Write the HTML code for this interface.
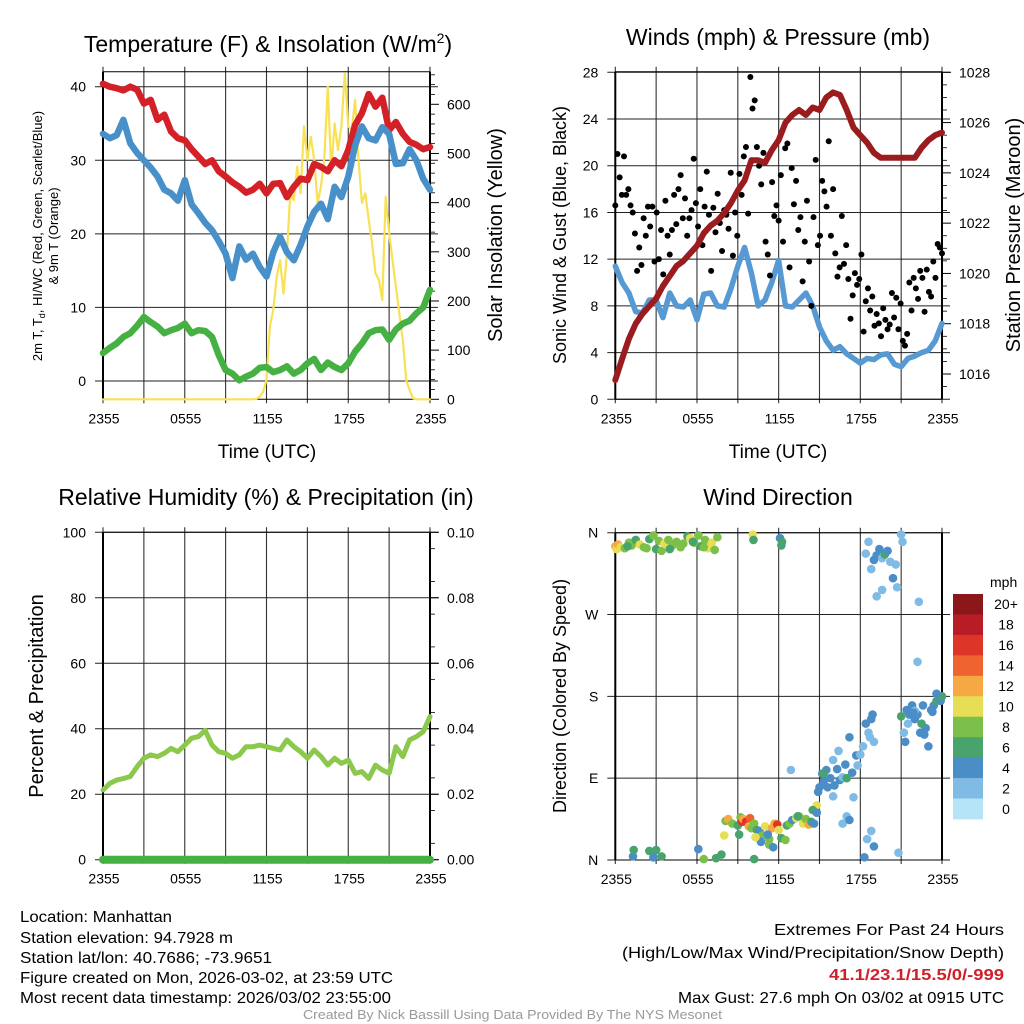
<!DOCTYPE html>
<html><head><meta charset="utf-8"><style>
html,body{margin:0;padding:0;background:#fff;}
svg{display:block;font-family:"Liberation Sans",sans-serif;}
</style></head><body>
<svg id="root" width="1024" height="1024" viewBox="0 0 1024 1024" xmlns="http://www.w3.org/2000/svg">
<text x="268" y="52" font-size="23" text-anchor="middle">Temperature (F) &amp; Insolation (W/m<tspan font-size="14" dy="-9">2</tspan><tspan dy="9">)</tspan></text>
<text x="778" y="45" font-size="23" text-anchor="middle">Winds (mph) &amp; Pressure (mb)</text>
<text x="266" y="505" font-size="23" text-anchor="middle">Relative Humidity (%) &amp; Precipitation (in)</text>
<text x="778" y="505" font-size="23" text-anchor="middle">Wind Direction</text>

<text transform="translate(42,236) rotate(-90)" font-size="13" text-anchor="middle">2m T, T<tspan font-size="9" dy="3">d</tspan><tspan dy="-3">, HI/WC (Red, Green, Scarlet/Blue)</tspan></text>
<text transform="translate(58,236) rotate(-90)" font-size="13" text-anchor="middle">&amp; 9m T (Orange)</text>
<text transform="translate(502,235) rotate(-90)" font-size="20" text-anchor="middle">Solar Insolation (Yellow)</text>
<text transform="translate(566,235) rotate(-90)" font-size="18" text-anchor="middle">Sonic Wind &amp; Gust (Blue, Black)</text>
<text transform="translate(1020,235) rotate(-90)" font-size="20" text-anchor="middle">Station Pressure (Maroon)</text>
<text transform="translate(43,696) rotate(-90)" font-size="20" text-anchor="middle">Percent &amp; Precipitation</text>
<text transform="translate(566,696) rotate(-90)" font-size="18" text-anchor="middle">Direction (Colored By Speed)</text>
<text x="267" y="458" font-size="19" text-anchor="middle">Time (UTC)</text>
<text x="778" y="458" font-size="19" text-anchor="middle">Time (UTC)</text>

<g font-size="15.5">
<text x="20" y="922" textLength="152" lengthAdjust="spacingAndGlyphs">Location: Manhattan</text>
<text x="20" y="943" textLength="213" lengthAdjust="spacingAndGlyphs">Station elevation: 94.7928 m</text>
<text x="20" y="963" textLength="252" lengthAdjust="spacingAndGlyphs">Station lat/lon: 40.7686; -73.9651</text>
<text x="20" y="983" textLength="373" lengthAdjust="spacingAndGlyphs">Figure created on Mon, 2026-03-02, at 23:59 UTC</text>
<text x="20" y="1003" textLength="371" lengthAdjust="spacingAndGlyphs">Most recent data timestamp: 2026/03/02 23:55:00</text>
</g>
<g font-size="16">
<text x="774" y="935" textLength="230" lengthAdjust="spacingAndGlyphs">Extremes For Past 24 Hours</text>
<text x="622" y="958" textLength="382" lengthAdjust="spacingAndGlyphs">(High/Low/Max Wind/Precipitation/Snow Depth)</text>
<text x="829" y="980" fill="#d0202a" font-weight="bold" textLength="175" lengthAdjust="spacingAndGlyphs">41.1/23.1/15.5/0/-999</text>
<text x="678" y="1003" textLength="326" lengthAdjust="spacingAndGlyphs">Max Gust: 27.6 mph On 03/02 at 0915 UTC</text>
</g>
<text x="303" y="1019" font-size="12.5" fill="#999" textLength="419" lengthAdjust="spacingAndGlyphs">Created By Nick Bassill Using Data Provided By The NYS Mesonet</text>
<g id="charts"></g>
</svg>
<script>
// ---- data (half-hourly unless noted) ----
const tempF = [40.4,40.0,39.8,39.5,40.0,39.6,37.7,38.2,35.5,36.2,33.9,33.0,32.7,31.5,30.5,29.5,30.0,28.5,27.8,27.0,26.4,25.6,26.0,26.8,25.5,26.8,26.9,25.0,26.4,27.5,27.3,29.5,29.1,28.5,30.0,29.2,31.4,34.8,36.4,39.0,37.3,38.5,34.1,35.2,33.6,32.5,32.1,31.5,31.8];
const windChill = [33.6,33.0,33.4,35.5,32.3,31.0,30.0,29.0,27.8,26.0,25.5,24.5,27.3,24.0,22.8,21.5,20.5,19.0,17.3,14.0,18.3,16.5,17.3,15.5,14.2,17.5,19.6,17.5,16.4,18.5,21.0,23.0,24.1,22.0,26.4,25.0,27.8,32.0,34.6,33.0,32.7,34.5,33.6,29.5,29.6,31.5,30.0,27.5,26.0];
const dewpoint = [3.8,4.5,5.1,6.0,6.5,7.5,8.7,8.0,7.4,6.5,6.9,7.2,7.8,6.5,6.9,6.8,6.0,3.5,1.5,1.0,0.1,0.6,1.0,1.8,1.9,1.2,1.5,2.0,1.0,1.5,2.4,3.0,1.5,2.5,1.9,1.5,2.4,4.0,5.1,6.5,6.9,7.0,5.6,7.0,7.8,8.2,9.2,10.0,12.4];
// solar, 15-minute
const solar = [0,0,0,0,0,0,0,0,0,0,0,0,0,0,0,0,0,0,0,0,0,0,0,0,0,0,0,0,0,0,0,0,0,0,0,0,0,0,0,0,0,0,0,0,0,1,5,15,39,148,182,249,283,215,297,419,405,473,419,555,487,534,487,399,433,494,636,466,561,507,555,663,555,548,609,487,399,419,365,317,256,243,202,412,338,283,229,175,121,39,19,2,0,0,0,0,0];
const windSpeed = [11.4,10.0,9.1,7.5,7.4,8.5,8.5,7.0,9.1,8.0,7.9,8.5,6.8,9.0,9.1,8.0,7.9,9.5,11.4,13.0,10.8,8.0,8.5,10.0,11.9,8.0,7.9,8.5,9.1,8.0,6.2,5.0,4.2,4.5,3.9,3.5,3.1,3.5,3.4,3.8,3.9,3.0,2.8,3.5,3.7,4.0,4.2,5.0,6.5];
const gusts = [16.6,21,19,17.5,20.8,17.5,18,16.6,16,14.2,11,13,11.5,15.5,14,16.5,14.8,16.5,11.8,16,12,14.5,10.7,17,14,12.4,14.5,17.5,15,18,19.2,15.5,17.2,14,15.5,16.2,20.6,16.8,14.8,18,13.2,16.5,19.5,15.8,11,16.4,14.3,17.6,15.1,12.7,16.2,15.8,14.6,19.4,12.3,16,14,19.3,17.5,20.8,21.6,15.9,27.6,24.9,25.6,21.6,20,18.4,21.1,13.5,12.4,10.6,18.6,15.7,16.6,15.3,19.2,13.5,21.5,21.9,11.3,19.8,16.7,18.7,14.5,15.6,10.1,13.5,17,11.8,8,15.6,20.5,13.2,14,18.7,17.8,16.5,22.1,14,18,12.5,10.5,11.3,15.7,11.6,13.2,10.3,6.9,8.9,10.8,9.8,10.3,12.4,5.8,8.4,9.5,7.6,8.8,6.3,7.3,6.5,5.4,7.8,6.8,6,6.4,9.1,7,8.7,6,8.2,5,4.6,5.6,10,7.6,10.4,9.5,8.6,11,10.4,7.5,11.1,9.2,8.8,11.8,10.4,13.3,13,12.5];
const pressure = [1015.76,1016.6,1017.4,1018.0,1018.4,1018.7,1019.0,1019.5,1019.9,1020.3,1020.5,1020.8,1021.1,1021.6,1021.9,1022.1,1022.4,1022.8,1023.3,1023.7,1024.5,1024.5,1024.4,1024.9,1025.3,1026.0,1026.3,1026.5,1026.3,1026.6,1026.5,1027.0,1027.2,1027.1,1026.5,1025.8,1025.5,1025.2,1024.8,1024.6,1024.6,1024.6,1024.6,1024.6,1024.6,1025.0,1025.3,1025.5,1025.6];
const relHumidity = [21.3,23.3,24.3,24.8,25.4,28.4,31.0,32.0,31.5,32.5,34.0,33.0,35.0,37.1,37.6,39.5,35.0,33.0,32.5,31.0,32.0,34.5,34.5,35.0,34.5,34.0,33.5,36.6,34.5,33.0,31.0,33.5,31.5,28.9,31.0,29.4,30.4,26.4,26.9,24.8,28.9,27.4,26.4,34.5,31.5,36.6,37.6,39.1,43.7];
const precip = [0,0,0,0,0];
// wind direction scatter: hours since start, degrees, mph
const dirHours = [0,0.1,0.2,0.4,0.7,1.0,1.2,1.5,1.8,2.1,2.5,2.8,3.0,3.2,3.4,3.6,3.9,4.2,4.5,4.8,5.0,5.3,5.5,5.8,6.1,6.3,6.6,6.8,7.1,7.3,7.5,0.9,2.3,4.0,6.5,5.7,
1.3,1.35,2.5,2.8,3.0,3.4,6.5,7.4,7.8,10.2,6.1,10.1,10.15,12.1,12.25,12.2,
8.0,8.1,8.3,8.6,9.0,9.2,9.3,9.4,9.6,9.8,9.9,10.0,10.2,10.4,10.6,10.8,11.0,11.3,11.3,11.5,11.7,11.9,12.0,12.2,12.5,12.6,12.8,13.0,13.3,13.5,13.8,14.0,14.2,14.4,14.8,14.5,13.4,11.2,10.7,10.3,9.1,11.6,12.9,
14.6,14.8,15.0,15.2,15.3,15.5,15.6,15.8,16.0,16.1,16.3,16.5,16.7,16.9,17.0,17.2,17.4,17.5,17.7,17.8,18.0,18.2,18.4,18.6,18.8,18.9,19.0,18.7,16.0,15.3,16.4,17.0,14.9,16.7,17.2,
18.3,18.5,18.8,19.0,20.8,
18.4,18.6,18.8,19.0,19.2,19.4,19.6,19.8,20.0,20.2,20.4,20.6,20.7,19.2,19.6,21.0,21.1,22.3,22.2,
21.0,21.2,21.3,21.4,21.6,21.8,22.0,22.2,22.4,22.6,22.8,23.0,23.2,23.4,23.6,23.8,23.9,24.0,22.5,23.6,22.0,21.5,22.7,21.9,23.3];
const dirDegrees = [345,342,347,344,343,349,346,352,347,344,353,357,342,351,340,348,352,346,350,344,348,356,354,349,357,345,352,343,349,341,355,345,343,342,344,350,
4,11,10,3,11,4,1,2,6,1,12,358,352,354,350,346,
27,43,45,40,38,47,42,45,42,37,46,35,40,33,32,27,37,23,17,35,40,39,33,24,22,38,40,44,46,48,40,45,39,42,60,55,48,28,20,25,28,14,99,
40,52,80,95,86,99,80,90,70,82,100,88,91,105,48,135,96,69,115,104,116,125,150,140,155,160,130,135,110,95,120,90,75,40,44,
3,23,32,15,8,
337,350,320,330,335,342,332,336,340,328,310,325,300,290,297,358,350,284,218,
158,140,130,165,160,170,155,160,140,170,145,125,165,170,175,178,175,180,150,183,164,150,138,162,163];
const dirSpeed = [12,11,13,10,8,8,9,7,10,8,6,8,7,8,8,10,8,8,8,8,9,7,10,8,8,7,9,10,11,8,8,7,8,7,8,7,
4,6,6,4,6,6,8,6,6,6,4,10,6,4,6,6,
10,8,12,8,6,8,16,12,16,12,14,8,8,6,4,8,10,8,8,12,12,16,10,6,8,6,8,4,10,8,10,8,12,6,10,6,6,4,4,10,6,4,2,
4,4,4,4,4,4,4,4,2,4,4,4,2,4,2,4,4,2,4,2,2,2,4,2,4,4,2,2,2,6,2,6,4,2,4,
4,2,2,4,2,
2,2,2,4,4,4,2,6,4,2,4,2,2,2,2,2,2,2,2,
6,2,4,4,4,4,4,4,4,4,4,4,4,4,6,6,4,6,6,4,2,2,4,4,4];
const xTickLabels = ["2355","0555","1155","1755","2355"];
const tempTicks = [0,10,20,30,40];
const solarTicks = [0,100,200,300,400,500,600];
const windTicks = [0,4,8,12,16,20,24,28];
const pressureTicks = [1016,1018,1020,1022,1024,1026,1028];
const rhTicks = [0,20,40,60,80,100];
const precipTicks = ["0.00","0.02","0.04","0.06","0.08","0.10"];
const dirTicks = ["N","E","S","W","N"];
const colorbarLabels = ["20+","18","16","14","12","10","8","6","4","2","0"];
const speedColors = ["#b5e4f7","#7fbbe4","#4a8dc7","#48a46c","#7cc04a","#e6df56","#f6a943","#ef6330","#dd3528","#b81d25","#8c171b"];

const NS = "http://www.w3.org/2000/svg";
const root = document.getElementById("charts");
function mk(tag, attrs, parent){
  const e = document.createElementNS(NS, tag);
  for (const k in attrs) e.setAttribute(k, attrs[k]);
  (parent||root).appendChild(e); return e;
}
function scale(d0,d1,r0,r1){ return v => r0 + (v-d0)/(d1-d0)*(r1-r0); }
function linePath(arr, xs, ys){
  const n = arr.length;
  return arr.map((v,i)=>(i?"L":"M")+xs(i*24/(n-1)).toFixed(1)+","+ys(v).toFixed(1)).join("");
}

function panel(name, x0, x1, yT, yB, hGridVals, ys){
  const g = mk("g", {});
  
  
  const xs = scale(0,24,x0,x1);
  for (let h=0; h<=24; h+=3){
    const l = mk("line",{x1:xs(h),x2:xs(h),y1:yT-5,y2:yB+4,stroke:"#333","stroke-width":1.1},g);
    
    
  }
  hGridVals.forEach(v=>{
    const l = mk("line",{x1:x0-8,x2:x1+8,y1:ys(v),y2:ys(v),stroke:"#222","stroke-width":1},g);
    
    
  });
  mk("line",{x1:x0,x2:x1,y1:yT,y2:yT,stroke:"#000","stroke-width":1},g);
  mk("line",{x1:x0,x2:x1,y1:yB,y2:yB,stroke:"#000","stroke-width":1},g);
  mk("line",{x1:x0,x2:x0,y1:yT,y2:yB,stroke:"#000","stroke-width":2},g);
  mk("line",{x1:x1,x2:x1,y1:yT,y2:yB,stroke:"#000","stroke-width":2},g);
  xTickLabels.forEach((t,i)=>{
    const tx = mk("text",{x:xs(i*6)+1,y:yB+24,"font-size":14,"text-anchor":"middle"},g);
    tx.textContent = t;
    
    
  });
  return {g, xs};
}
function leftLabels(g, x0, vals, ys, texts){
  vals.forEach((v,i)=>{
    const t = mk("text",{x:x0-17,y:ys(v)+5,"font-size":14,"text-anchor":"end"},g);
    t.textContent = texts ? texts[i] : String(v);
    
    
  });
}
function rightAxis(g, x1, vals, ys, texts, minorVals){
  (minorVals||[]).forEach(v=>{ mk("line",{x1:x1,x2:x1+5,y1:ys(v),y2:ys(v),stroke:"#000","stroke-width":0.8},g); });
  vals.forEach((v,i)=>{
    mk("line",{x1:x1,x2:x1+9,y1:ys(v),y2:ys(v),stroke:"#000","stroke-width":1},g);
    const t = mk("text",{x:x1+17,y:ys(v)+5,"font-size":14},g);
    t.textContent = texts ? texts[i] : String(v);
    
    
  });
}
function series(g, arr, xs, ys, color, w, name){
  const p = mk("path",{d:linePath(arr,xs,ys),fill:"none",stroke:color,"stroke-width":w,"stroke-linejoin":"round","stroke-linecap":"round"},g);
  
  
}

// ---- Panel 1: temperature ----
{
  const yT=71.7, yB=399.3;
  const ys = scale(0,40,381,86.7);
  const ysR = scale(0,600,399.3,104.3);
  const {g, xs} = panel("temperature-chart",103,430,yT,yB,tempTicks,ys);
  leftLabels(g,103,tempTicks,ys);
  const minors=[]; for(let v=20; v<=660; v+=20) if(v%100) minors.push(v);
  rightAxis(g,430,solarTicks,ysR,null,minors);
  series(g,solar,xs,ysR,"#f9e155",2.2,"solar-insolation-line");
  series(g,tempF,xs,ys,"#d42027",6.5,"temperature-line");
  series(g,windChill,xs,ys,"#4790c9",6.5,"wind-chill-line");
  series(g,dewpoint,xs,ys,"#45b142",6.5,"dewpoint-line");
}
// ---- Panel 2: wind & pressure ----
{
  const yT=71.7, yB=399.3;
  const ys = scale(0,28,399.3,72.3);
  const ysR = scale(1016,1028,374,72.3);
  const {g, xs} = panel("wind-chart",615.3,942,yT,yB,windTicks,ys);
  leftLabels(g,615.3,windTicks,ys);
  const minors=[]; for(let v=1015.5; v<=1028; v+=0.5) if(v%2) minors.push(v);
  rightAxis(g,942,pressureTicks,ysR,null,minors);
  series(g,windSpeed,xs,ys,"#5699d3",5.5,"wind-speed-line");
  const n = gusts.length;
  gusts.forEach((v,i)=>{
    const c = mk("circle",{cx:xs(i*24/(n-1)),cy:ys(v),r:3,fill:"#000"},g);
    
    
  });
  series(g,pressure,xs,ysR,"#9b1c1f",6,"pressure-line");
}
// ---- Panel 3: RH & precip ----
{
  const yT=532.3, yB=859.7;
  const ys = scale(0,100,859.7,532.3);
  const ysR = scale(0,0.1,859.7,532.3);
  const {g, xs} = panel("humidity-chart",103,430,yT,yB,rhTicks,ys);
  leftLabels(g,103,rhTicks,ys);
  const minors=[]; for(let v=0.005; v<0.1; v+=0.01) minors.push(v);
  rightAxis(g,430,precipTicks.map(Number),ysR,precipTicks,minors);
  series(g,relHumidity,xs,ys,"#8cc84b",5,"relative-humidity-line");
  series(g,precip,xs,ysR,"#45b142",8,"precipitation-line");
}
// ---- Panel 4: direction ----
{
  const yT=532.7, yB=860;
  const ys = scale(0,360,860,532.7);
  const dirVals=[0,90,180,270,360];
  const {g, xs} = panel("direction-chart",615.3,942,yT,yB,dirVals,ys);
  leftLabels(g,615.3,dirVals,ys,dirTicks);
  dirHours.forEach((h,i)=>{
    const bin = Math.min(10, Math.floor(dirSpeed[i]/2));
    const c = mk("circle",{cx:xs(h),cy:ys(dirDegrees[i]),r:4.3,fill:speedColors[bin]},g);
    
    
  });
  const cb = mk("g",{});
  
  
  const t = mk("text",{x:990,y:587,"font-size":14},cb); t.textContent="mph";
  const top=594, bh=(819-594)/11;
  colorbarLabels.forEach((lab,i)=>{
    const r = mk("rect",{x:953,y:top+i*bh,width:30,height:bh+0.4,fill:speedColors[10-i]},cb);
    
    
    const tx = mk("text",{x:1006,y:top+i*bh+bh/2+5,"font-size":14,"text-anchor":"middle"},cb);
    tx.textContent = lab;
    
    
  });
}
</script>
</body></html>
